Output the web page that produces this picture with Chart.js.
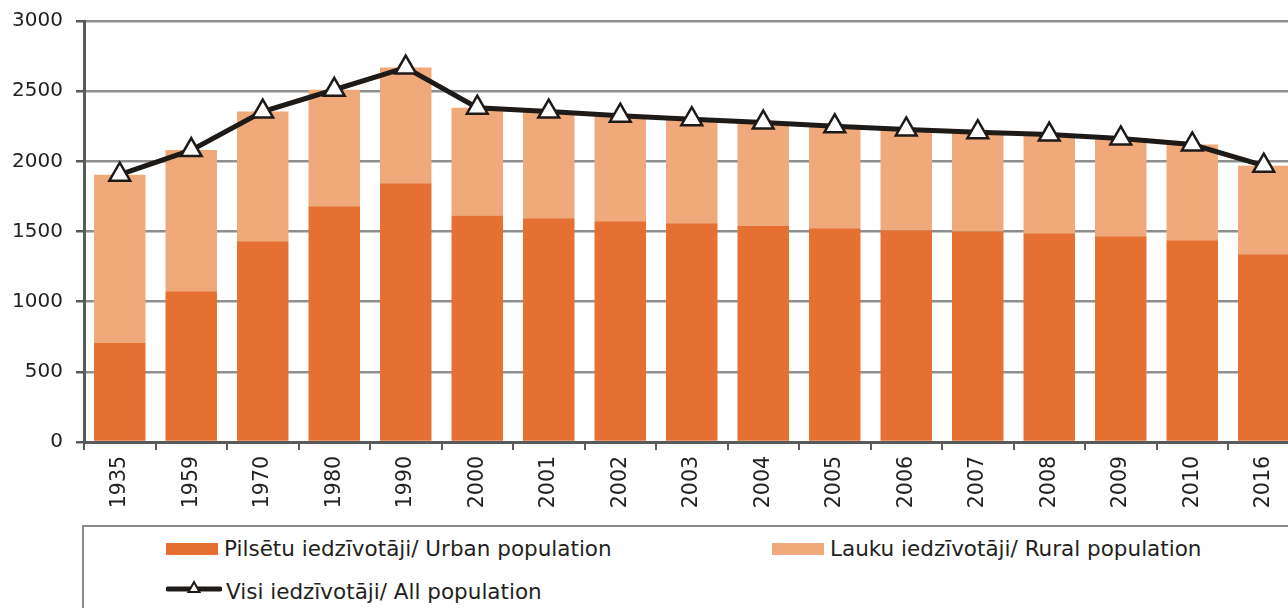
<!DOCTYPE html>
<html>
<head>
<meta charset="utf-8">
<script src="https://cdn.jsdelivr.net/npm/chart.js@4"></script>
<style>
    html, body { margin: 0; padding: 0; background: #fff; overflow: hidden; }
    body { width: 1288px; height: 608px; position: relative; font-family: "DejaVu Sans", Verdana, sans-serif; }
    #wrap { position: absolute; left: 0; top: -4px; width: 1314px; height: 524px; }
    #legend {
        position: absolute; left: 82px; top: 525px; width: 1300px; height: 120px;
        border-left: 2px solid #8a8a8a; border-top: 2px solid #8a8a8a;
        font-size: 21.5px; color: #231f20;
    }
    .item { position: absolute; display: flex; align-items: center; white-space: nowrap; }
    .swatch { width: 52px; height: 12px; margin-right: 6px; }
</style>
</head>
<body>
<div id="wrap"><canvas id="chart" width="1314" height="524"></canvas></div>
<div id="legend"></div>
<script>
// Iedzīvotāji (tūkst.) pēc gada
const years = ['1935', '1959', '1970', '1980', '1990', '2000', '2001', '2002', '2003',
               '2004', '2005', '2006', '2007', '2008', '2009', '2010', '2016'];
const urban = [705, 1075, 1430, 1680, 1843, 1614, 1595, 1573, 1558, 1540, 1523, 1507, 1500, 1488, 1467, 1438, 1338];
const rural = [1200, 1005, 925, 830, 825, 768, 760, 752, 742, 736, 727, 720, 708, 703, 696, 682, 631];
const total = [1905, 2080, 2355, 2510, 2668, 2382, 2355, 2325, 2300, 2276, 2250, 2227, 2208, 2191, 2163, 2120, 1969];
const yTicks = [0, 500, 1000, 1500, 2000, 2500, 3000];

const labels = {
    urban: 'Pilsētu iedzīvotāji/ Urban population',
    rural: 'Lauku iedzīvotāji/ Rural population',
    total: 'Visi iedzīvotāji/ All population'
};

const urbanColor = '#e57031';
const ruralColor = '#f0a97b';
const lineColor = '#1e1a18';
const axisColor = '#5a5a5a';
const gridColor = '#8f8f8f';

const ctx = document.getElementById('chart');
const chart = new Chart(ctx, {
    type: 'bar',
    data: {
        labels: years,
        datasets: [
            {
                type: 'line',
                label: labels.total,
                data: total,
                stack: 'all',
                order: 0,
                borderColor: lineColor,
                borderWidth: 5,
                pointStyle: 'triangle',
                pointRadius: 12,
                pointBackgroundColor: '#ffffff',
                pointBorderColor: lineColor,
                pointBorderWidth: 2.5,
                tension: 0
            },
            {
                label: labels.urban,
                data: urban,
                stack: 'pop',
                order: 1,
                backgroundColor: urbanColor,
                categoryPercentage: 0.72,
                barPercentage: 1
            },
            {
                label: labels.rural,
                data: rural,
                stack: 'pop',
                order: 2,
                backgroundColor: ruralColor,
                categoryPercentage: 0.72,
                barPercentage: 1
            }
        ]
    },
    options: {
        responsive: false,
        animation: false,
        layout: { padding: { top: 16, left: 0, right: 0, bottom: 0 } },
        plugins: {
            legend: { display: false },
            tooltip: { enabled: false }
        },
        scales: {
            x: {
                stacked: true,
                offset: true,
                grid: {
                    offset: true,
                    drawOnChartArea: false,
                    drawTicks: true,
                    tickLength: 8,
                    color: axisColor,
                    lineWidth: 2
                },
                border: { display: true, color: axisColor, width: 3 },
                ticks: {
                    color: '#231f20',
                    font: { family: '"DejaVu Sans"', size: 20.5 },
                    maxRotation: 90,
                    minRotation: 90,
                    padding: 6,
                    autoSkip: false
                },
                afterFit: function (scale) { scale.height = 78; }
            },
            y: {
                stacked: true,
                min: 0,
                max: 3000,
                afterBuildTicks: function (scale) {
                    scale.ticks = yTicks.map(v => ({ value: v }));
                },
                grid: {
                    color: gridColor,
                    lineWidth: 2.5,
                    tickLength: 8,
                    tickColor: axisColor
                },
                border: { display: true, color: axisColor, width: 3 },
                ticks: {
                    color: '#231f20',
                    font: { family: '"DejaVu Sans"', size: 20 },
                    padding: 13,
                    callback: function (value) { return String(value); }
                },
                afterFit: function (scale) { scale.width = 84; }
            }
        }
    }
});

// Legend from the chart datasets
const legend = document.getElementById('legend');
const pos = {};
pos[labels.urban] = { left: 82, top: 9 };
pos[labels.rural] = { left: 688, top: 9 };
pos[labels.total] = { left: 82, top: 52 };

chart.data.datasets.forEach(ds => {
    const item = document.createElement('div');
    item.className = 'item';
    item.style.left = pos[ds.label].left + 'px';
    item.style.top = pos[ds.label].top + 'px';
    let symbol;
    if (ds.type === 'line') {
        symbol = document.createElement('span');
        symbol.style.marginRight = '4px';
        symbol.style.display = 'inline-block';
        symbol.innerHTML = '<svg width="56" height="20" viewBox="0 0 56 20">' +
            '<line x1="2" y1="10" x2="54" y2="10" stroke="' + lineColor + '" stroke-width="5" stroke-linecap="round"/>' +
            '<polygon points="28,3 33.5,13 22.5,13" fill="#fff" stroke="' + lineColor + '" stroke-width="2"/></svg>';
    } else {
        symbol = document.createElement('span');
        symbol.className = 'swatch';
        symbol.style.background = ds.backgroundColor;
    }
    const text = document.createElement('span');
    text.textContent = ds.label;
    item.appendChild(symbol);
    item.appendChild(text);
    legend.appendChild(item);
});
</script>
</body>
</html>
